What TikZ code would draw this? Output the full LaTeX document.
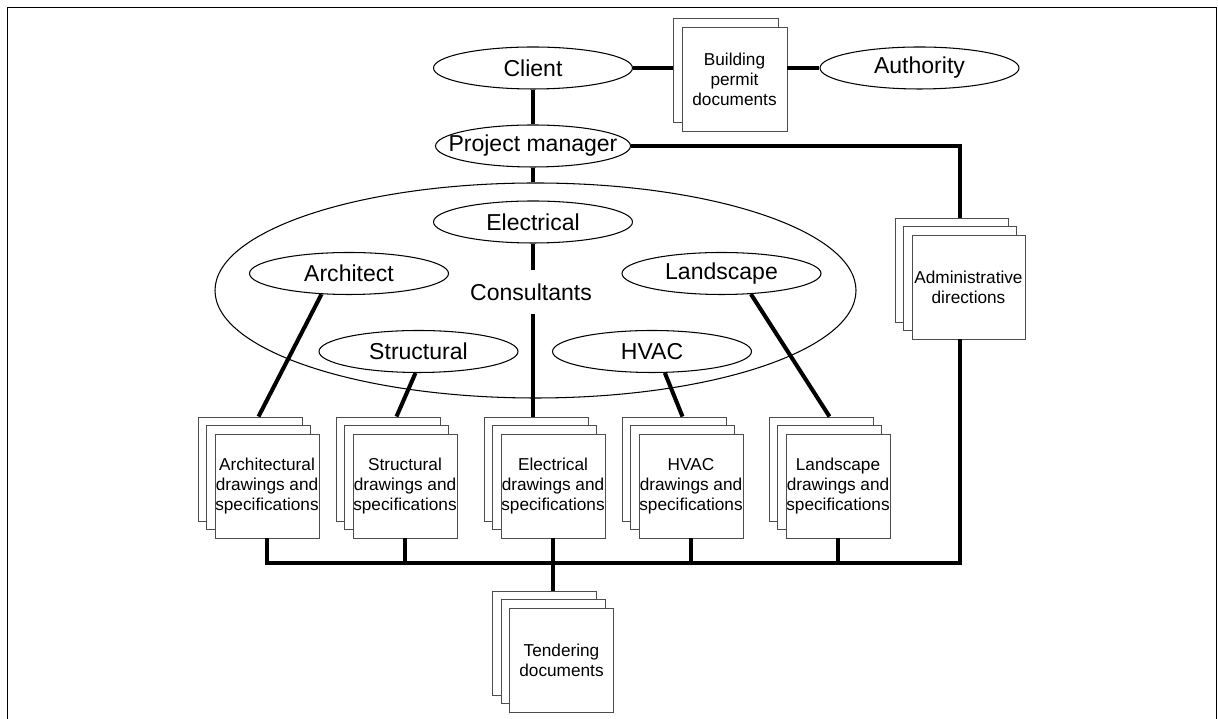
\documentclass[tikz,border=0pt]{standalone}
\usepackage{fontspec}
\setmainfont{Liberation Sans}
\usepackage{tikz}
\usetikzlibrary{shapes.geometric,positioning,calc}
\tikzset{
  roleell/.style={
    ellipse, draw=black, fill=white, line width=0.6pt,
    minimum width=3.98cm, minimum height=0.84cm,
    inner xsep=-0.6cm, inner ysep=-0.3cm,
    font=\fontsize{13.1}{15}\selectfont
  },
  docpage/.style={
    draw=black!70, fill=white, line width=0.5pt,
    minimum width=2.08cm, minimum height=2.08cm, inner sep=0pt,
    align=center, font=\fontsize{9.8}{11.4}\selectfont
  },
  docline/.style={draw=black, line width=2.3pt}
}

\begin{document}
\begin{tikzpicture}
  \useasboundingbox (0,0) rectangle (24.36,14.38);
  \draw[line width=1pt] (0.15,-0.1) -- (0.15,14.23) -- (24.33,14.23) -- (24.33,-0.1);

  % consultants group
  \node[ellipse, draw=black, line width=0.6pt, minimum width=12.82cm,
        minimum height=4.3cm] (consult) at (10.71,8.57) {};
  \coordinate (bus) at (0,3.12);

  % document stacks
  \foreach \x/\nm/\txt in {5.34/archdoc/Architectural, 8.10/structdoc/Structural,
      11.06/elecdoc/Electrical, 13.82/hvacdoc/HVAC, 16.76/landdoc/Landscape}{
    \node[docpage] (\nm3) at (\x-0.34,5.00) {};
    \node[docpage] (\nm2) at (\x-0.17,4.83) {};
    \node[docpage] (\nm)  at (\x,4.66) {\txt\\drawings and\\specifications};
  }
  \node[docpage] (tenderdoc3) at (10.89,1.52) {};
  \node[docpage] (tenderdoc2) at (11.06,1.35) {};
  \node[docpage] (tenderdoc)  at (11.23,1.18) {Tendering\\documents};

  \node[docpage, minimum width=2.26cm] (admindoc3) at (19.03,8.98) {};
  \node[docpage, minimum width=2.26cm] (admindoc2) at (19.20,8.81) {};
  \node[docpage, minimum width=2.26cm] (admindoc)  at (19.37,8.64)
    {Administrative\\directions};

  \node[docpage, minimum width=2.1cm] (permit2) at (14.51,12.97) {};
  \node[docpage, minimum width=2.1cm] (permit)  at (14.69,12.79)
    {Building\\permit\\documents};

  % parties
  \node[roleell] (client) at (10.66,13.02) {Client};
  \node[roleell] (auth)   at (18.39,13.02) {Authority};
  \node[roleell, minimum width=3.9cm] (pm) at (10.66,11.46) {Project manager};
  \node[roleell] (elec)   at (10.66,9.94) {Electrical};
  \node[roleell] (arch)   at (6.98,8.91)  {Architect};
  \node[roleell] (land)   at (14.43,8.91) {Landscape};
  \node[roleell] (struct) at (8.37,7.35)  {Structural};
  \node[roleell] (hvac)   at (13.04,7.35) {HVAC};
  \node[font=\fontsize{13.1}{15}\selectfont, inner xsep=2pt, inner ysep=0.27cm]
    (constext) at (10.62,8.54) {Consultants};

  % connections
  \draw[docline] (client.south) -- (pm.north);
  \draw[docline] (client.east) -- (client.east -| permit2.west);
  \draw[docline] (permit.east |- auth.west) -- (auth.west);
  \draw[docline] (pm.south) -- (pm.south |- consult.north);
  \draw[docline] (pm.east) -| (admindoc2.north |- admindoc3.north);

  \draw[docline] (arch.217) -- (archdoc2.north |- archdoc3.north);
  \draw[docline] (struct.262) -- (structdoc2.north |- structdoc3.north);
  \draw[docline] (elec.south) -- (elec.south |- constext.north);
  \draw[docline] (elec.south |- constext.south) -- (elec.south |- elecdoc3.north);
  \draw[docline] (hvac.301) -- (hvacdoc2.north |- hvacdoc3.north);
  \draw[docline] (land.325) -- (landdoc2.north |- landdoc3.north);

  \draw[docline] (admindoc2.south |- admindoc.south) |- (archdoc.south |- bus)
    -- (archdoc.south);
  \foreach \nm in {structdoc,elecdoc,hvacdoc,landdoc}
    \draw[docline] (\nm.south) -- (\nm.south |- bus);
  \draw[docline] (elecdoc.south |- bus) -- (tenderdoc2.north |- tenderdoc3.north);
\end{tikzpicture}
\end{document}
